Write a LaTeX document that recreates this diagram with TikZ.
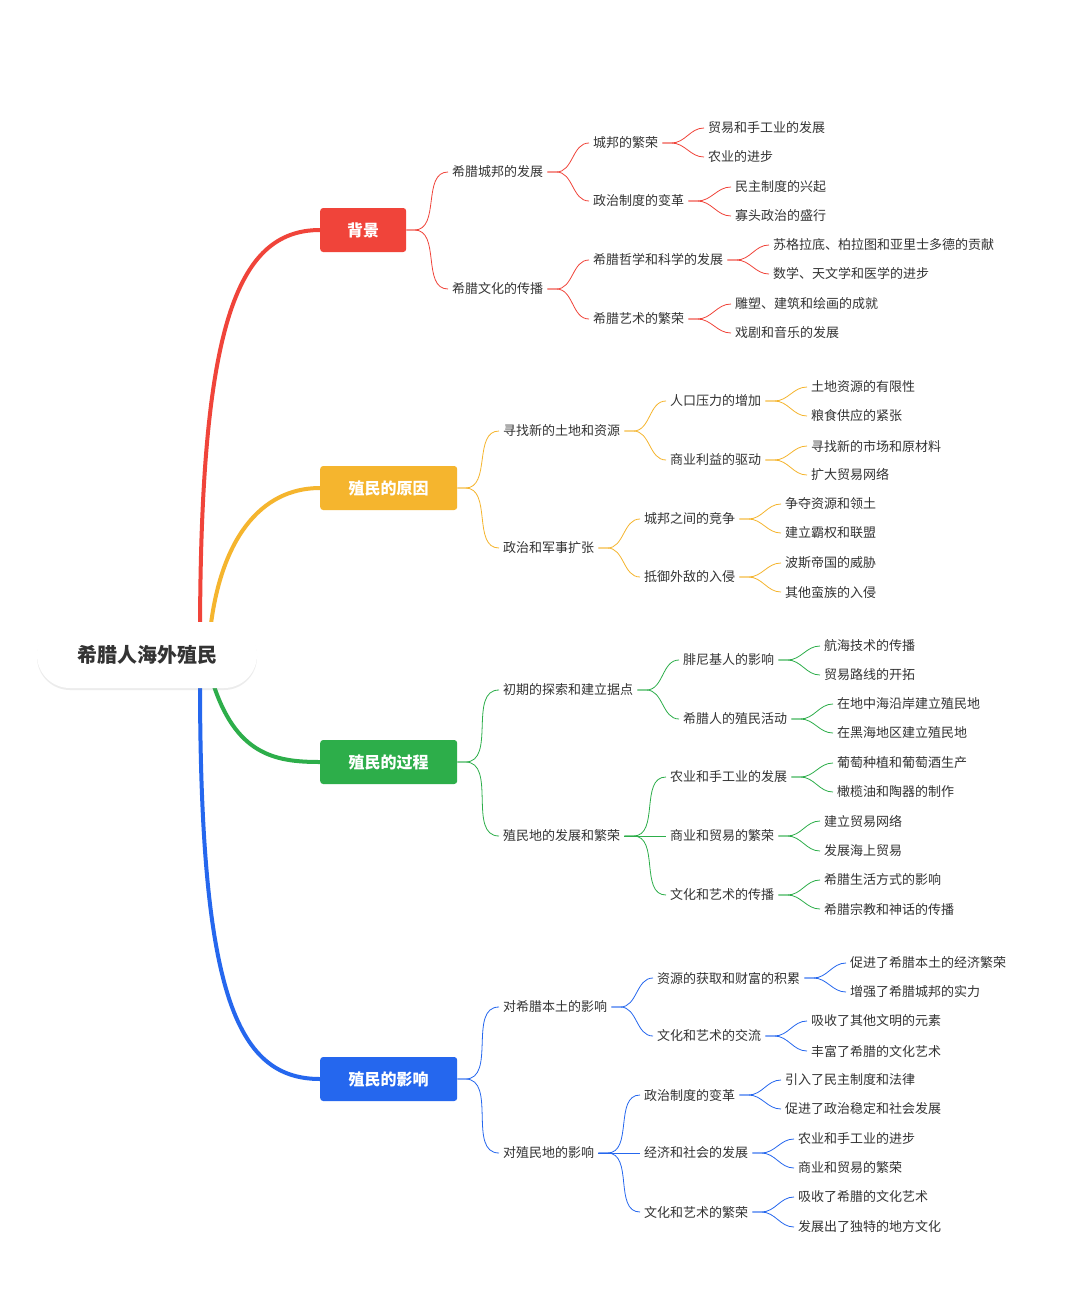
\documentclass[tikz,border=0pt]{standalone}
\usepackage{fontspec}
\setmainfont{Noto Sans CJK SC}
\usetikzlibrary{shadows}
\definecolor{cR}{HTML}{F0443A}\definecolor{cY}{HTML}{F5B52E}
\definecolor{cG}{HTML}{2DAE4A}\definecolor{cB}{HTML}{2567EE}
\definecolor{tx}{HTML}{333333}
\tikzset{
 t/.style={anchor=west,inner xsep=4pt,inner ysep=2pt,text=tx,font=\fontsize{13}{13}\selectfont},
 box/.style={anchor=west,minimum width=137,minimum height=44,rounded corners=3,text=white,font=\fontsize{16}{16}\selectfont\bfseries},
 ln/.style={line width=0.8pt},
 trunk/.style={line width=4pt},
}
\newcommand\lnk[3]{\draw[ln,#3] (#1.east) -- ++(9,0) to[out=0,in=180] (#2.west);}
\newcommand\blnk[3]{\draw[ln,#3] (#1.east) -- ++(8,0) to[out=0,in=180] (#2.west);}
\begin{document}
\begin{tikzpicture}[x=1pt,y=-1pt]
\useasboundingbox[fill=white] (0,0) rectangle (1080,1304);
% trunks
\draw[trunk,cR] (200,640) .. controls (200,330) and (235,230) .. (320,230);
\draw[trunk,cY] (210,632) .. controls (220,540) and (260,488) .. (320,488);
\draw[trunk,cG] (212,680) .. controls (235,755) and (275,762) .. (320,762);
\draw[trunk,cB] (200,680) .. controls (200,990) and (235,1079) .. (320,1079);
\node[fill=white,rounded corners=33,minimum width=220,minimum height=66,drop shadow={opacity=0.15,shadow xshift=0pt,shadow yshift=-2pt},text=tx,font=\fontsize{20}{20}\selectfont\bfseries] (root) at (147,655) {希腊人海外殖民};
% boxes
\node[box,fill=cR,minimum width=86] (A) at (320,230) {背景};
\node[box,fill=cY] (B) at (320,488) {殖民的原因};
\node[box,fill=cG] (C) at (320,762) {殖民的过程};
\node[box,fill=cB] (D) at (320,1079) {殖民的影响};
% A
\node[t] (A1) at (448,172) {希腊城邦的发展};
\node[t] (A11) at (589,143) {城邦的繁荣};
\node[t] (A111) at (704,128) {贸易和手工业的发展};
\node[t] (A112) at (704,157) {农业的进步};
\node[t] (A12) at (589,201) {政治制度的变革};
\node[t] (A121) at (731,187) {民主制度的兴起};
\node[t] (A122) at (731,216) {寡头政治的盛行};
\node[t] (A2) at (448,289) {希腊文化的传播};
\node[t] (A21) at (589,260) {希腊哲学和科学的发展};
\node[t] (A211) at (769,245) {苏格拉底、柏拉图和亚里士多德的贡献};
\node[t] (A212) at (769,274) {数学、天文学和医学的进步};
\node[t] (A22) at (589,319) {希腊艺术的繁荣};
\node[t] (A221) at (731,304) {雕塑、建筑和绘画的成就};
\node[t] (A222) at (731,333) {戏剧和音乐的发展};
\blnk{A}{A1}{cR}\blnk{A}{A2}{cR}
\lnk{A1}{A11}{cR}\lnk{A1}{A12}{cR}\lnk{A2}{A21}{cR}\lnk{A2}{A22}{cR}
\lnk{A11}{A111}{cR}\lnk{A11}{A112}{cR}\lnk{A12}{A121}{cR}\lnk{A12}{A122}{cR}
\lnk{A21}{A211}{cR}\lnk{A21}{A212}{cR}\lnk{A22}{A221}{cR}\lnk{A22}{A222}{cR}
% B
\node[t] (B1) at (499,431) {寻找新的土地和资源};
\node[t] (B11) at (666,401) {人口压力的增加};
\node[t] (B111) at (807,387) {土地资源的有限性};
\node[t] (B112) at (807,416) {粮食供应的紧张};
\node[t] (B12) at (666,460) {商业利益的驱动};
\node[t] (B121) at (807,446) {寻找新的市场和原材料};
\node[t] (B122) at (807,475) {扩大贸易网络};
\node[t] (B2) at (499,548) {政治和军事扩张};
\node[t] (B21) at (640,519) {城邦之间的竞争};
\node[t] (B211) at (781,504) {争夺资源和领土};
\node[t] (B212) at (781,533) {建立霸权和联盟};
\node[t] (B22) at (640,577) {抵御外敌的入侵};
\node[t] (B221) at (781,563) {波斯帝国的威胁};
\node[t] (B222) at (781,592) {其他蛮族的入侵};
\blnk{B}{B1}{cY}\blnk{B}{B2}{cY}
\lnk{B1}{B11}{cY}\lnk{B1}{B12}{cY}\lnk{B2}{B21}{cY}\lnk{B2}{B22}{cY}
\lnk{B11}{B111}{cY}\lnk{B11}{B112}{cY}\lnk{B12}{B121}{cY}\lnk{B12}{B122}{cY}
\lnk{B21}{B211}{cY}\lnk{B21}{B212}{cY}\lnk{B22}{B221}{cY}\lnk{B22}{B222}{cY}
% C
\node[t] (C1) at (499,690) {初期的探索和建立据点};
\node[t] (C11) at (679,660) {腓尼基人的影响};
\node[t] (C111) at (820,646) {航海技术的传播};
\node[t] (C112) at (820,675) {贸易路线的开拓};
\node[t] (C12) at (679,719) {希腊人的殖民活动};
\node[t] (C121) at (833,704) {在地中海沿岸建立殖民地};
\node[t] (C122) at (833,733) {在黑海地区建立殖民地};
\node[t] (C2) at (499,836) {殖民地的发展和繁荣};
\node[t] (C21) at (666,777) {农业和手工业的发展};
\node[t] (C211) at (833,763) {葡萄种植和葡萄酒生产};
\node[t] (C212) at (833,792) {橄榄油和陶器的制作};
\node[t] (C22) at (666,836) {商业和贸易的繁荣};
\node[t] (C221) at (820,821) {建立贸易网络};
\node[t] (C222) at (820,851) {发展海上贸易};
\node[t] (C23) at (666,895) {文化和艺术的传播};
\node[t] (C231) at (820,880) {希腊生活方式的影响};
\node[t] (C232) at (820,909) {希腊宗教和神话的传播};
\blnk{C}{C1}{cG}\blnk{C}{C2}{cG}
\lnk{C1}{C11}{cG}\lnk{C1}{C12}{cG}\lnk{C2}{C21}{cG}\lnk{C2}{C22}{cG}\lnk{C2}{C23}{cG}
\lnk{C11}{C111}{cG}\lnk{C11}{C112}{cG}\lnk{C12}{C121}{cG}\lnk{C12}{C122}{cG}
\lnk{C21}{C211}{cG}\lnk{C21}{C212}{cG}\lnk{C22}{C221}{cG}\lnk{C22}{C222}{cG}
\lnk{C23}{C231}{cG}\lnk{C23}{C232}{cG}
% D
\node[t] (D1) at (499,1007) {对希腊本土的影响};
\node[t] (D11) at (653,978) {资源的获取和财富的积累};
\node[t] (D111) at (846,963) {促进了希腊本土的经济繁荣};
\node[t] (D112) at (846,992) {增强了希腊城邦的实力};
\node[t] (D12) at (653,1036) {文化和艺术的交流};
\node[t] (D121) at (807,1021) {吸收了其他文明的元素};
\node[t] (D122) at (807,1051) {丰富了希腊的文化艺术};
\node[t] (D2) at (499,1153) {对殖民地的影响};
\node[t] (D21) at (640,1095) {政治制度的变革};
\node[t] (D211) at (781,1080) {引入了民主制度和法律};
\node[t] (D212) at (781,1109) {促进了政治稳定和社会发展};
\node[t] (D22) at (640,1153) {经济和社会的发展};
\node[t] (D221) at (794,1139) {农业和手工业的进步};
\node[t] (D222) at (794,1168) {商业和贸易的繁荣};
\node[t] (D23) at (640,1212) {文化和艺术的繁荣};
\node[t] (D231) at (794,1197) {吸收了希腊的文化艺术};
\node[t] (D232) at (794,1227) {发展出了独特的地方文化};
\blnk{D}{D1}{cB}\blnk{D}{D2}{cB}
\lnk{D1}{D11}{cB}\lnk{D1}{D12}{cB}\lnk{D2}{D21}{cB}\lnk{D2}{D22}{cB}\lnk{D2}{D23}{cB}
\lnk{D11}{D111}{cB}\lnk{D11}{D112}{cB}\lnk{D12}{D121}{cB}\lnk{D12}{D122}{cB}
\lnk{D21}{D211}{cB}\lnk{D21}{D212}{cB}\lnk{D22}{D221}{cB}\lnk{D22}{D222}{cB}
\lnk{D23}{D231}{cB}\lnk{D23}{D232}{cB}
\end{tikzpicture}
\end{document}
